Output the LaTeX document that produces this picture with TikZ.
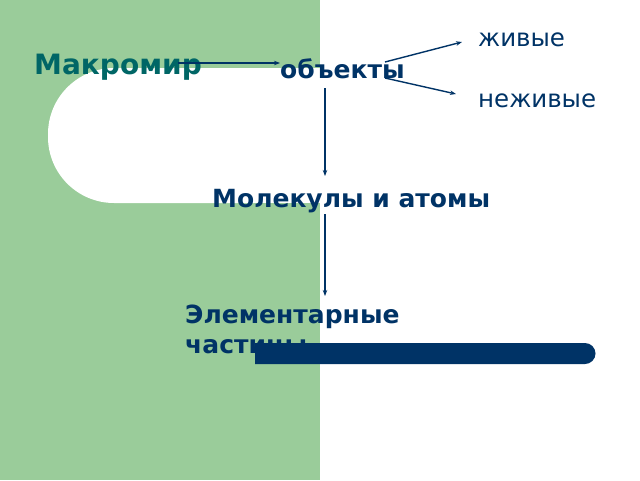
\documentclass[tikz,border=0pt]{standalone}
\usepackage{fontspec}
\setmainfont{DejaVu Sans}
\usetikzlibrary{arrows.meta}
\definecolor{bggreen}{HTML}{9ACC9A}
\definecolor{navy}{HTML}{003366}
\definecolor{teal2}{HTML}{006666}
\tikzset{
  lbl/.style={anchor=base west, inner sep=0pt, text=navy, font=\fontsize{25}{30}\selectfont\bfseries},
  lblreg/.style={anchor=base west, inner sep=0pt, text=navy, font=\fontsize{24.5}{30}\selectfont},
  conn/.style={draw=navy, line width=1.4pt, -{Stealth[length=6pt,width=4.5pt]}},
}
\begin{document}
\begin{tikzpicture}[x=1pt,y=-1pt]
\useasboundingbox (0,0) rectangle (640,480);
\fill[white] (0,0) rectangle (640,480);
\fill[bggreen] (0,0) rectangle (320,480);
\fill[white, rounded corners=66pt] (320,68) -- (48,68) -- (48,203) -- (320,203) -- cycle;
\fill[white] (250,68) rectangle (320,203);
\node[anchor=base west, inner sep=0pt, text=teal2, font=\fontsize{28}{32}\selectfont\bfseries] (makro) at (34,74) {Макромир};
\node[lbl] (obj) at (280,78) {объекты};
\node[lblreg] (live) at (478,46) {живые};
\node[lblreg] (nonlive) at (478,107) {неживые};
\node[lbl] (mol) at (212,207) {Молекулы и атомы};
\node[lbl, align=left] (elem) at (185,353) {Элементарные\\частицы};
\coordinate (a1) at (178,63);
\coordinate (a2) at (280,63);
\coordinate (b0) at (385,62);
\coordinate (b1) at (462,42);
\coordinate (c0) at (385,78);
\coordinate (c1) at (456,94);
\coordinate (d0) at (325,88);
\coordinate (d1) at (325,176);
\coordinate (e0) at (325,214);
\coordinate (e1) at (325,296);
\draw[conn] (a1) -- (a2);
\draw[conn] (b0) -- (b1);
\draw[conn] (c0) -- (c1);
\draw[conn] (d0) -- (d1);
\draw[conn] (e0) -- (e1);
\fill[navy] (255,343) -- (585,343) arc[start angle=-90,end angle=90,radius=10.5] -- (255,364) -- cycle;
\end{tikzpicture}
\end{document}
